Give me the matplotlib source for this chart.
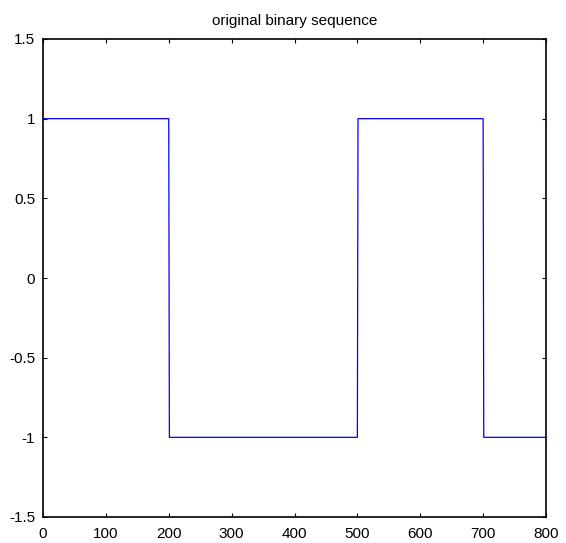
import matplotlib
matplotlib.use("Agg")
import matplotlib.pyplot as plt

# breakpoints of the binary sequence (one sample per unit)
x = [0, 200, 201, 500, 501, 700, 701, 800]
y = [1, 1, -1, -1, 1, 1, -1, -1]

xticks = [0, 100, 200, 300, 400, 500, 600, 700, 800]
yticks = [-1.5, -1, -0.5, 0, 0.5, 1, 1.5]
ytick_labels = ["-1.5", "-1", "-0.5", "0", "0.5", "1", "1.5"]

plt.rcParams["font.family"] = ["Liberation Sans", "DejaVu Sans"]
plt.rcParams["font.size"] = 11

fig = plt.figure(figsize=(5.66, 5.43), dpi=100)
ax = fig.add_axes([43 / 566, 1 - 517 / 543, (546 - 43) / 566, (517 - 39) / 543])

ax.plot(x, y, color="blue", linewidth=0.9)
ax.set_xlim(0, 800)
ax.set_ylim(-1.5, 1.5)
ax.set_xticks(xticks)
ax.set_yticks(yticks)
ax.set_yticklabels(ytick_labels)
ax.tick_params(direction="in", top=True, right=True, length=3, width=0.8)
ax.tick_params(axis="x", pad=7.5)
ax.tick_params(axis="y", pad=5.5)
for s in ax.spines.values():
    s.set_linewidth(1.2)
ax.set_title("original binary sequence", fontsize=11, pad=10)

fig.savefig("out.png", dpi=100)
